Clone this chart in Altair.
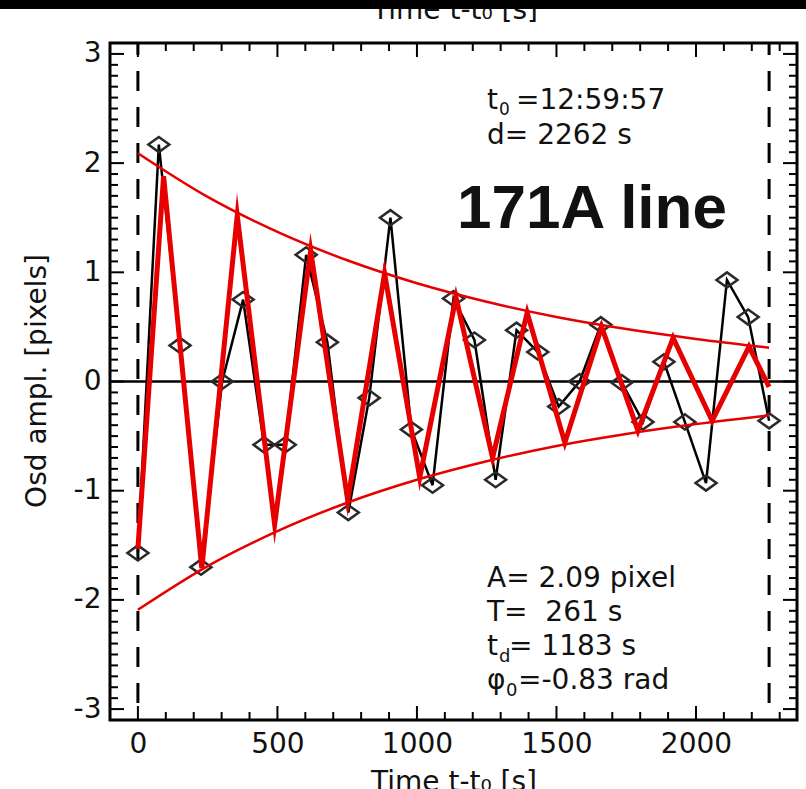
import altair as alt
import pandas as pd

t_obs = [0, 75, 151, 226, 302, 377, 452, 528, 603, 679, 754, 829, 905, 980, 1056, 1131,
         1206, 1282, 1357, 1433, 1508, 1583, 1659, 1734, 1810, 1885, 1960, 2036, 2111, 2187, 2262]
y_obs = [-1.57, 2.17, 0.33, -1.70, 0.00, 0.75, -0.58, -0.58, 1.16, 0.36, -1.20, -0.15, 1.50,
         -0.44, -0.95, 0.76, 0.38, -0.90, 0.47, 0.27, -0.23, 0.00, 0.52, -0.01, -0.37, 0.18,
         -0.37, -0.93, 0.93, 0.59, -0.36]

# ---- red fitted curve (vertices) ----
t_fit = [0, 92, 229, 356, 490, 619, 752, 884, 1010, 1140, 1271, 1395, 1530, 1662, 1792, 1918, 2058, 2190, 2262]
y_fit = [-1.53, 1.88, -1.71, 1.52, -1.31, 1.20, -1.09, 0.99, -0.88, 0.77, -0.70, 0.63, -0.56,
         0.50, -0.45, 0.40, -0.36, 0.32, -0.05]

# ---- red envelopes ----
t_env = [0, 250, 500, 750, 1000, 1250, 1500, 1750, 2000, 2262]
y_env_up = [2.09, 1.69, 1.37, 1.11, 0.90, 0.73, 0.59, 0.48, 0.39, 0.31]
y_env_lo = [-2.09, -1.69, -1.37, -1.11, -0.90, -0.73, -0.59, -0.48, -0.39, -0.31]

# ---- dashed limits and ticks ----
t_dash = [0, 2262]
x_major = [0, 500, 1000, 1500, 2000]
x_minor = [100, 200, 300, 400, 600, 700, 800, 900, 1100, 1200, 1300, 1400,
           1600, 1700, 1800, 1900, 2100, 2200, 2300]
y_major = [-3, -2, -1, 0, 1, 2, 3]
y_minor = [round(-3 + 0.1 * i, 1) for i in range(61) if i % 10 != 0]

W, H = 687, 677
FONT = "DejaVu Sans"
INK = "#111111"
RED = "#e60000"

xscale = alt.Scale(domain=[-100, 2362], nice=False, zero=False)
yscale = alt.Scale(domain=[-3.1, 3.1], nice=False, zero=False)
xaxis = alt.Axis(values=x_major, format="d", ticks=False, domain=False, grid=False,
                 labelFont=FONT, labelFontSize=28, labelColor=INK, labelPadding=10,
                 labelFlush=False, labelOverlap=False, title=None)
yaxis = alt.Axis(values=y_major, ticks=False, domain=False, grid=False,
                 labelFont=FONT, labelFontSize=28, labelColor=INK, labelPadding=9,
                 labelFlush=False, labelOverlap=False, title=None,
                 labelExpr="datum.value < 0 ? '-' + abs(datum.value) : '' + datum.value")


def X():
    return alt.X("t:Q", scale=xscale, axis=xaxis)


def Y():
    return alt.Y("y:Q", scale=yscale, axis=yaxis)


obs = pd.DataFrame({"t": t_obs, "y": y_obs})
fit = pd.DataFrame({"t": t_fit, "y": y_fit})
env = pd.DataFrame({"t": t_env + t_env, "y": y_env_up + y_env_lo,
                    "e": ["up"] * len(t_env) + ["lo"] * len(t_env)})
dash = pd.DataFrame({"t": t_dash})
zero = pd.DataFrame({"y": [0]})
xmaj = pd.DataFrame({"t": x_major})
xmin = pd.DataFrame({"t": x_minor})
ymaj = pd.DataFrame({"y": y_major})
ymin = pd.DataFrame({"y": y_minor})
anchor = pd.DataFrame({"a": [0]})

layers = []

# dashed vertical limits
layers.append(alt.Chart(dash).mark_rule(color="black", strokeWidth=3, strokeDash=[20, 16],
                                        strokeDashOffset=8).encode(x=X()))
# zero line
layers.append(alt.Chart(zero).mark_rule(color="black", strokeWidth=2.5).encode(y=Y()))
# observed data line + diamonds
layers.append(alt.Chart(obs).mark_line(color="black", strokeWidth=2.5).encode(x=X(), y=Y()))
layers.append(alt.Chart(obs).mark_point(shape="M -1 0 L 0 -0.72 L 1 0 L 0 0.72 Z", size=441,
                                        filled=False, stroke="#2a2a2a", strokeWidth=2.5,
                                        opacity=1).encode(x=X(), y=Y()))
# envelopes
layers.append(alt.Chart(env).mark_line(color=RED, strokeWidth=2.5, interpolate="monotone")
              .encode(x=X(), y=Y(), detail="e:N"))
# fit
layers.append(alt.Chart(fit).mark_line(color=RED, strokeWidth=5, strokeJoin="miter",
                                       strokeMiterLimit=10).encode(x=X(), y=Y()))

# inward ticks (box style)
MAJ, MIN = 14, 8
for df, ln in [(xmaj, MAJ), (xmin, MIN)]:
    layers.append(alt.Chart(df).mark_rule(color="black", strokeWidth=2)
                  .encode(x=X(), y=alt.value(H), y2=alt.value(H - ln)))
    layers.append(alt.Chart(df).mark_rule(color="black", strokeWidth=2)
                  .encode(x=X(), y=alt.value(0), y2=alt.value(ln)))
for df, ln in [(ymaj, MAJ), (ymin, MIN)]:
    layers.append(alt.Chart(df).mark_rule(color="black", strokeWidth=2)
                  .encode(y=Y(), x=alt.value(0), x2=alt.value(ln)))
    layers.append(alt.Chart(df).mark_rule(color="black", strokeWidth=2)
                  .encode(y=Y(), x=alt.value(W), x2=alt.value(W - ln)))


def txt(s, x, y, size=28, weight="normal", font=FONT, align="left",
        baseline="alphabetic", angle=None):
    kw = dict(text=s, font=font, fontSize=size, fontWeight=weight, align=align,
              baseline=baseline, color=INK)
    if angle is not None:
        kw["angle"] = angle
    return alt.Chart(anchor).mark_text(**kw).encode(x=alt.value(x), y=alt.value(y))


# annotations (top right)
layers.append(txt("t", 377, 66))
layers.append(txt("0", 389, 72, size=17))
layers.append(txt("=12:59:57", 406, 66))
layers.append(txt("d= 2262 s", 377, 101))
layers.append(txt("171A line", 347, 185, size=62, weight="bold", font="Liberation Sans"))
# annotations (bottom right)
layers.append(txt("A= 2.09 pixel", 377, 544))
layers.append(txt("T=\u00a0 261 s", 377, 578))
layers.append(txt("t", 377, 612))
layers.append(txt("d", 389, 619, size=18))
layers.append(txt("= 1183 s", 399, 612))
layers.append(txt("\u03c6", 377, 646))
layers.append(txt("0", 396, 653, size=18))
layers.append(txt("=-0.83 rad", 408, 646))

# axis titles
layers.append(txt("Time t-t\u2080 [s]", 344, 748, align="center"))
layers.append(txt("Osd ampl. [pixels]", -72, 338, align="center", baseline="middle", angle=270))
# top title (of panel above), partly hidden by black band
layers.append(txt("Time t-t\u2080 [s]", 345, -24, align="center"))
layers.append(alt.Chart(anchor).mark_rect(color="black")
              .encode(x=alt.value(-110), x2=alt.value(W + 9), y=alt.value(-43), y2=alt.value(-34)))

chart = alt.layer(*layers).properties(
    width=W, height=H,
    padding={"left": 110, "top": 43, "right": 9, "bottom": 69},
    autosize=alt.AutoSizeParams(type="none"),
    background="white",
).configure_view(stroke="black", strokeWidth=3)

chart.save("out.html", embed_options={"renderer": "svg", "actions": False})
